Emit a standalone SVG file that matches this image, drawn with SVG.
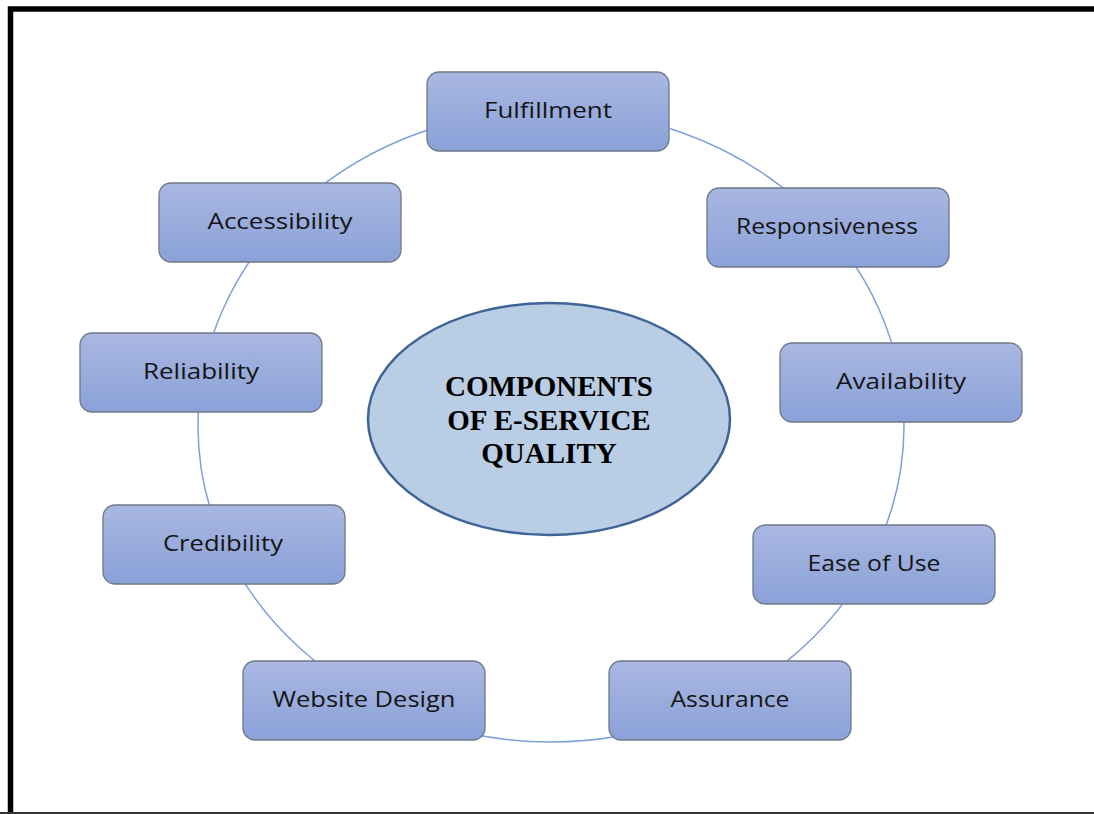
<svg xmlns="http://www.w3.org/2000/svg" width="1094" height="814" viewBox="0 0 1094 814">
  <defs>
    <linearGradient id="boxGrad" x1="0" y1="0" x2="0" y2="1">
      <stop offset="0" stop-color="#a9b7e1"/>
      <stop offset="1" stop-color="#8aa1d8"/>
    </linearGradient>
    <style>
      .box { fill: url(#boxGrad); stroke: #6f7888; stroke-width: 1.3; }
      .lbl { font-family: "Open Sans", "Liberation Sans", sans-serif; font-size: 22.5px; fill: #151515; text-anchor: middle; }
      .ring { fill: none; stroke: #7f9fd8; stroke-width: 1.5; }
      .center { fill: #b9cde4; stroke: #3f6496; stroke-width: 2.5; }
      .ctitle { font-family: "Liberation Serif", "Times New Roman", serif; font-weight: bold; font-size: 29px; fill: #000; text-anchor: middle; }
    </style>
  </defs>
  <rect width="1094" height="814" fill="#ffffff"/>
  <g id="frame">
    <path d="M10.5 814 V9 H1100" fill="none" stroke="#000" stroke-width="5.5"/>
    <line x1="0" y1="813" x2="1094" y2="813" stroke="#333" stroke-width="2"/>
  </g>
  <g id="connectors">
    <ellipse class="ring" cx="551" cy="426" rx="353" ry="316"/>
  </g>
  <g id="center-node">
    <ellipse class="center" cx="549" cy="419" rx="181" ry="116"/>
    <text class="ctitle" x="549" y="396">COMPONENTS</text>
    <text class="ctitle" x="549" y="430">OF E-SERVICE</text>
    <text class="ctitle" x="549" y="463">QUALITY</text>
  </g>
  <g id="fulfillment">
    <rect class="box" x="427" y="72" width="242" height="79" rx="12"/>
    <text class="lbl" x="548" y="118" textLength="128" lengthAdjust="spacingAndGlyphs">Fulfillment</text>
  </g>
  <g id="accessibility">
    <rect class="box" x="159" y="183" width="242" height="79" rx="12"/>
    <text class="lbl" x="280" y="229" textLength="145" lengthAdjust="spacingAndGlyphs">Accessibility</text>
  </g>
  <g id="responsiveness">
    <rect class="box" x="707" y="188" width="242" height="79" rx="12"/>
    <text class="lbl" x="827" y="234" textLength="182" lengthAdjust="spacingAndGlyphs">Responsiveness</text>
  </g>
  <g id="reliability">
    <rect class="box" x="80" y="333" width="242" height="79" rx="12"/>
    <text class="lbl" x="201" y="379" textLength="116" lengthAdjust="spacingAndGlyphs">Reliability</text>
  </g>
  <g id="availability">
    <rect class="box" x="780" y="343" width="242" height="79" rx="12"/>
    <text class="lbl" x="901" y="389" textLength="130" lengthAdjust="spacingAndGlyphs">Availability</text>
  </g>
  <g id="credibility">
    <rect class="box" x="103" y="505" width="242" height="79" rx="12"/>
    <text class="lbl" x="223" y="551" textLength="120" lengthAdjust="spacingAndGlyphs">Credibility</text>
  </g>
  <g id="ease-of-use">
    <rect class="box" x="753" y="525" width="242" height="79" rx="12"/>
    <text class="lbl" x="874" y="571" textLength="133" lengthAdjust="spacingAndGlyphs">Ease of Use</text>
  </g>
  <g id="website-design">
    <rect class="box" x="243" y="661" width="242" height="79" rx="12"/>
    <text class="lbl" x="364" y="707" textLength="183" lengthAdjust="spacingAndGlyphs">Website Design</text>
  </g>
  <g id="assurance">
    <rect class="box" x="609" y="661" width="242" height="79" rx="12"/>
    <text class="lbl" x="730" y="707" textLength="119" lengthAdjust="spacingAndGlyphs">Assurance</text>
  </g>
</svg>
